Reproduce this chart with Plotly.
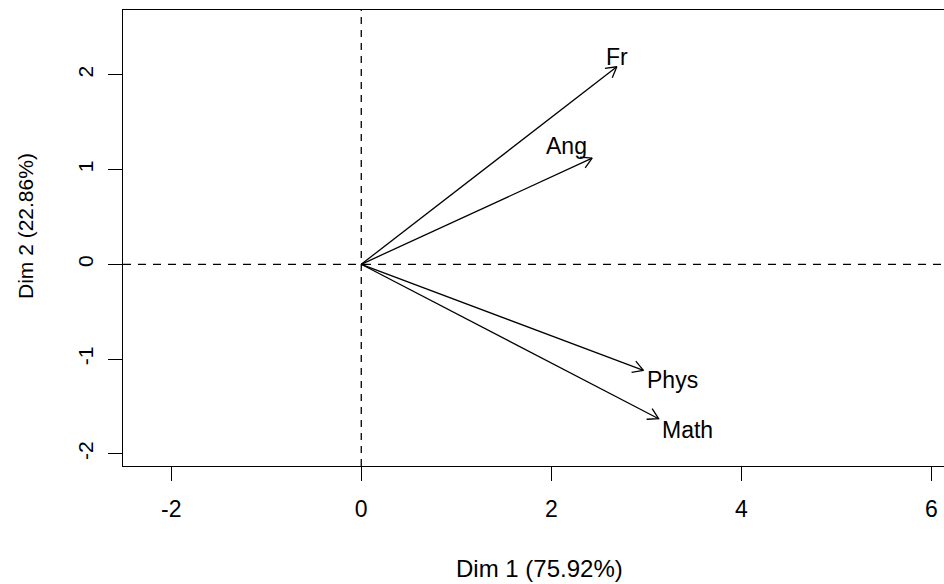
import numpy as np
import plotly.graph_objects as go

variables = ["Fr", "Ang", "Phys", "Math"]
dim1 = [2.69, 2.43, 2.97, 3.13]
dim2 = [2.085, 1.12, -1.12, -1.63]
label_x = [2.69, 2.163, 3.28, 3.43]
label_y = [2.19, 1.249, -1.221, -1.752]
x_ticks = [-2, 0, 2, 4, 6]
y_ticks = [-2, -1, 0, 1, 2]
x_title = "Dim 1 (75.92%)"
y_title = "Dim 2 (22.86%)"

W, H = 944, 584
ml, mr, mt, mb = 123, 0, 10, 118
xr = [-2.508, 6.134]
yr = [-2.129, 2.684]
pxx = (W - ml - mr) / (xr[1] - xr[0])
pxy = (H - mt - mb) / (yr[1] - yr[0])

FONT = "Liberation Sans, Arial, sans-serif"

# arrows: shaft + open head
xs, ys = [], []
L = 12.0
th = np.deg2rad(30)
for x, y in zip(dim1, dim2):
    xs += [0, x, None]
    ys += [0, y, None]
    ux, uy = x * pxx, y * pxy
    n = np.hypot(ux, uy)
    ux, uy = ux / n, uy / n
    pts = []
    for s in (1, -1):
        c, si = np.cos(s * th), np.sin(s * th)
        rx, ry = ux * c - uy * si, ux * si + uy * c
        pts.append((x - L * rx / pxx, y - L * ry / pxy))
    xs += [pts[0][0], x, pts[1][0], None]
    ys += [pts[0][1], y, pts[1][1], None]

fig = go.Figure()
fig.add_trace(go.Scatter(x=xs, y=ys, mode="lines",
                         line=dict(color="black", width=1.3),
                         hoverinfo="skip", showlegend=False))

for name, lx, ly in zip(variables, label_x, label_y):
    fig.add_annotation(x=lx, y=ly, text=name, showarrow=False,
                       xanchor="center", yanchor="middle",
                       font=dict(family=FONT, size=23, color="black"))

# dashed reference lines
fig.add_shape(type="line", xref="x", yref="paper", x0=0, x1=0, y0=0, y1=1,
              line=dict(color="black", width=1.3, dash="7px,6px"))
fig.add_shape(type="line", xref="paper", yref="y", x0=0, x1=1, y0=0, y1=0,
              line=dict(color="black", width=1.3, dash="8px,7px"))

fig.add_annotation(xref="paper", yref="paper", x=(539.7 - ml) / (W - ml - mr),
                   y=-(568 - (H - mb)) / (H - mt - mb), text=x_title,
                   showarrow=False, xanchor="center", yanchor="middle",
                   font=dict(family=FONT, size=24, color="black"))
fig.add_annotation(xref="paper", yref="paper", x=(25 - ml) / (W - ml - mr),
                   y=((H - mb) - 226) / (H - mt - mb), text=y_title,
                   showarrow=False, xanchor="center", yanchor="middle",
                   textangle=-90,
                   font=dict(family=FONT, size=21, color="black"))

axis_common = dict(showgrid=False, zeroline=False, showline=True,
                   linecolor="black", linewidth=1.3, ticks="outside",
                   ticklen=14, tickwidth=1.3, tickcolor="black")

fig.update_layout(
    width=W, height=H,
    margin=dict(l=ml, r=mr, t=mt, b=mb, pad=0),
    paper_bgcolor="white", plot_bgcolor="white",
    xaxis=dict(range=xr, tickvals=x_ticks, ticktext=[str(v) for v in x_ticks],
               mirror=True, ticklabelstandoff=8,
               tickfont=dict(family=FONT, size=23, color="black"), **axis_common),
    yaxis=dict(range=yr, tickvals=y_ticks, ticktext=[str(v) for v in y_ticks],
               mirror=False, tickangle=-90, ticklabelstandoff=6,
               tickfont=dict(family=FONT, size=21, color="black"), **axis_common),
)

fig.write_html("out.html")
